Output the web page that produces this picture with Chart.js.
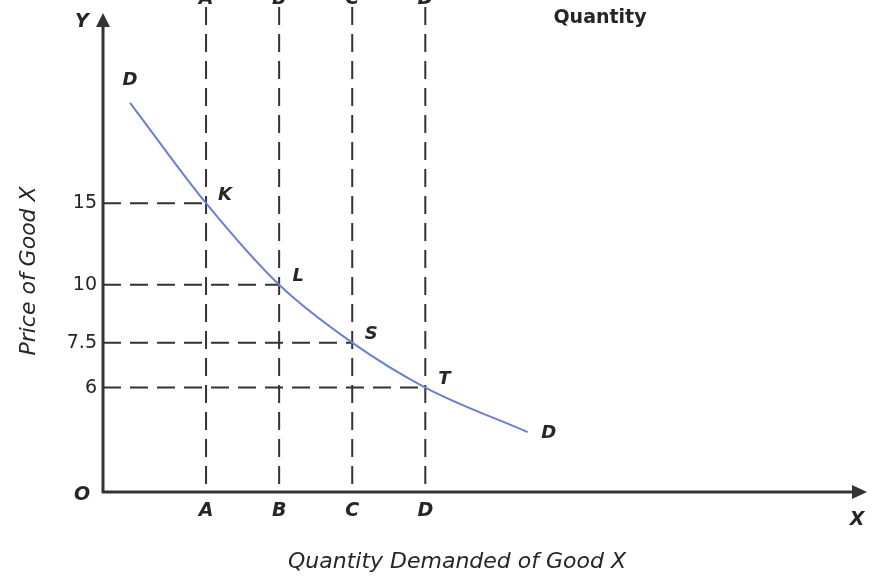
<!DOCTYPE html>
<html>
<head>
<meta charset="utf-8">
<script src="https://cdn.jsdelivr.net/npm/chart.js@4"></script>
<style>
  html, body { margin: 0; padding: 0; background: #ffffff; }
  #wrap { width: 890px; height: 576px; }
</style>
</head>
<body>
<div id="wrap"><canvas id="c" width="890" height="576"></canvas></div>
<script>
// ---- data ----
const quantityValues = [2, 3, 4, 5];           // positions of A, B, C, D
const quantityLabels = ['A', 'B', 'C', 'D'];
const priceValues = [15, 10, 7.5, 6];
const priceTickLabels = ['15', '10', '7.5', '6'];
const pointLabels = ['K', 'L', 'S', 'T'];
const curveQuantity = [0.96, 2, 3, 4, 5, 6.40];
const curvePrice = [24.7, 15, 10, 7.5, 6, 4.81];
const curveEndLabels = ['D', 'D'];
const xRange = [0.59, 11.03];
const yRange = [3.571, 39.77];

const INK = '#262626';
const FONT = '"DejaVu Sans", sans-serif';

const datasets = [];
datasets.push({
  label: 'Demand',
  data: curveQuantity.map((q, i) => ({ x: q, y: curvePrice[i] })),
  showLine: true,
  borderColor: '#6b7fd3',
  borderWidth: 2,
  pointRadius: 0,
  cubicInterpolationMode: 'monotone',
  order: 0
});
quantityValues.forEach((q) => {
  datasets.push({
    data: [{ x: q, y: yRange[1] }, { x: q, y: yRange[0] }],
    showLine: true, borderColor: '#333', borderWidth: 2,
    borderDash: [18, 9], pointRadius: 0, order: 2
  });
});
priceValues.forEach((p, i) => {
  datasets.push({
    data: [{ x: xRange[0], y: p }, { x: quantityValues[i], y: p }],
    showLine: true, borderColor: '#333', borderWidth: 2,
    borderDash: [18, 9], pointRadius: 0, order: 2
  });
});

const overlay = {
  id: 'overlay',
  afterDatasetsDraw(chart) {
    const { ctx, chartArea: a, scales: { x, y } } = chart;
    ctx.save();
    // axes with arrows
    ctx.strokeStyle = '#333'; ctx.fillStyle = '#333'; ctx.lineWidth = 3;
    ctx.beginPath(); ctx.moveTo(a.left, a.bottom + 1); ctx.lineTo(a.left, a.top + 16); ctx.stroke();
    ctx.beginPath(); ctx.moveTo(a.left, a.top + 6); ctx.lineTo(a.left - 7, a.top + 20); ctx.lineTo(a.left + 7, a.top + 20); ctx.closePath(); ctx.fill();
    ctx.beginPath(); ctx.moveTo(a.left - 1, a.bottom); ctx.lineTo(a.right - 10, a.bottom); ctx.stroke();
    ctx.beginPath(); ctx.moveTo(a.right + 1, a.bottom); ctx.lineTo(a.right - 14, a.bottom - 7); ctx.lineTo(a.right - 14, a.bottom + 7); ctx.closePath(); ctx.fill();

    ctx.fillStyle = INK;
    ctx.textAlign = 'center'; ctx.textBaseline = 'middle';
    ctx.font = 'italic bold 18px ' + FONT;
    // point labels
    pointLabels.forEach((t, i) => {
      ctx.fillText(t, x.getPixelForValue(quantityValues[i]) + 19, y.getPixelForValue(priceValues[i]) - 8);
    });
    // curve end labels
    const n = curveQuantity.length - 1;
    ctx.fillText(curveEndLabels[0], x.getPixelForValue(curveQuantity[0]), y.getPixelForValue(curvePrice[0]) - 23);
    ctx.fillText(curveEndLabels[1], x.getPixelForValue(curveQuantity[n]) + 21, y.getPixelForValue(curvePrice[n]) + 1);
    // axis letters
    ctx.font = 'italic bold 19px ' + FONT;
    ctx.fillText('Y', a.left - 21, a.top + 15);
    ctx.fillText('O', a.left - 21, a.bottom + 3);
    ctx.fillText('X', a.right - 9, a.bottom + 28);
    // letters cut at the top edge
    ctx.textBaseline = 'alphabetic';
    quantityLabels.forEach((t, i) => {
      ctx.fillText(t, x.getPixelForValue(quantityValues[i]), a.top - 3);
    });
    // axis titles
    ctx.textBaseline = 'middle';
    ctx.font = 'italic 22px ' + FONT;
    ctx.fillText('Quantity Demanded of Good X', 457, 562);
    ctx.save();
    ctx.translate(29, 271); ctx.rotate(-Math.PI / 2);
    ctx.fillText('Price of Good X', 0, 0);
    ctx.restore();
    // stray heading
    ctx.font = 'bold 19px ' + FONT;
    ctx.fillText('Quantity', 600, 18);
    ctx.restore();
  }
};

new Chart(document.getElementById('c'), {
  type: 'scatter',
  data: { datasets },
  options: {
    responsive: false,
    animation: false,
    layout: { padding: { top: 7, right: 24, left: 0, bottom: 0 } },
    plugins: { legend: { display: false }, tooltip: { enabled: false } },
    scales: {
      x: {
        type: 'linear', min: xRange[0], max: xRange[1],
        grid: { display: false, drawTicks: false }, border: { display: false },
        afterBuildTicks: (s) => { s.ticks = quantityValues.map(v => ({ value: v })); },
        afterFit: (s) => { s.height = 84; s.paddingLeft = 0; s.paddingRight = 0; },
        ticks: {
          autoSkip: false, maxRotation: 0, padding: 8, color: INK,
          font: { family: 'DejaVu Sans', size: 19, style: 'italic', weight: 'bold' },
          callback: (v) => quantityLabels[quantityValues.indexOf(v)] || ''
        }
      },
      y: {
        type: 'logarithmic', min: yRange[0], max: yRange[1],
        grid: { display: false, drawTicks: false }, border: { display: false },
        afterBuildTicks: (s) => { s.ticks = priceValues.map(v => ({ value: v })); },
        afterFit: (s) => { s.width = 103; s.paddingTop = 0; s.paddingBottom = 0; },
        ticks: {
          autoSkip: false, padding: 6, color: INK,
          font: { family: 'DejaVu Sans', size: 19 },
          callback: (v) => priceTickLabels[priceValues.indexOf(v)] || ''
        }
      }
    }
  },
  plugins: [overlay]
});
</script>
</body>
</html>
